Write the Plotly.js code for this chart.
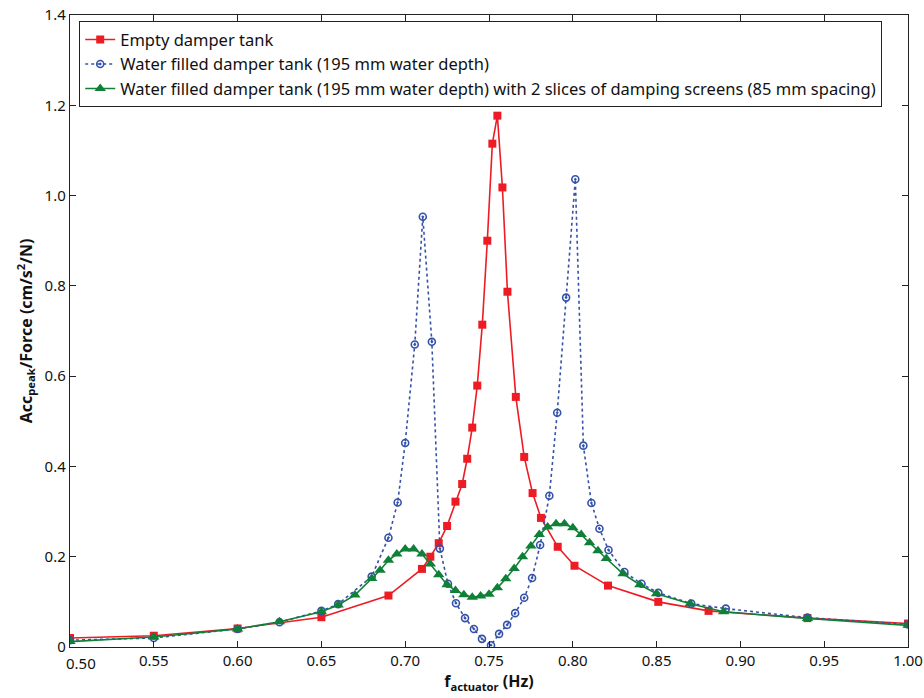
<!DOCTYPE html>
<html>
<head>
<meta charset="utf-8">
<script src="https://cdn.plot.ly/plotly-3.0.1.min.js"></script>
<style>html,body{margin:0;padding:0;background:#fff;}#chart{width:924px;height:698px;}</style>
</head>
<body>
<div id="chart"></div>
<script>
// Empty damper tank
const emptyFreq = [0.50, 0.55, 0.60, 0.65, 0.69, 0.71, 0.715, 0.72, 0.725, 0.73, 0.734, 0.737, 0.740, 0.743, 0.746, 0.749, 0.752, 0.755, 0.758, 0.761, 0.766, 0.771, 0.776, 0.781, 0.791, 0.801, 0.821, 0.851, 0.881, 0.94, 1.00];
const emptyAcc  = [0.020, 0.025, 0.041, 0.066, 0.114, 0.173, 0.200, 0.230, 0.268, 0.322, 0.361, 0.417, 0.486, 0.579, 0.714, 0.900, 1.115, 1.177, 1.018, 0.787, 0.554, 0.421, 0.341, 0.286, 0.222, 0.180, 0.136, 0.100, 0.080, 0.064, 0.052];

// Water filled damper tank (195 mm)
const waterFreq = [0.50, 0.55, 0.60, 0.625, 0.65, 0.66, 0.68, 0.69, 0.6955, 0.700, 0.7057, 0.7105, 0.7159, 0.7207, 0.7255, 0.7303, 0.7357, 0.741, 0.7458, 0.7512, 0.756, 0.7608, 0.7656, 0.771, 0.7757, 0.7805, 0.786, 0.7907, 0.796, 0.8015, 0.8063, 0.8111, 0.8159, 0.8213, 0.8308, 0.841, 0.851, 0.8707, 0.8913, 0.94, 1.00];
const waterAcc  = [0.015, 0.020, 0.040, 0.055, 0.080, 0.095, 0.156, 0.242, 0.320, 0.452, 0.670, 0.953, 0.676, 0.218, 0.140, 0.097, 0.064, 0.040, 0.018, 0.004, 0.029, 0.049, 0.075, 0.109, 0.153, 0.226, 0.335, 0.519, 0.774, 1.036, 0.446, 0.319, 0.262, 0.215, 0.166, 0.140, 0.120, 0.096, 0.085, 0.065, 0.050];

// Water filled with 2 slices of damping screens
const screenFreq = [0.50, 0.55, 0.60, 0.625, 0.65, 0.66, 0.67, 0.68, 0.685, 0.69, 0.695, 0.70, 0.705, 0.71, 0.715, 0.72, 0.725, 0.73, 0.735, 0.74, 0.745, 0.75, 0.755, 0.76, 0.765, 0.77, 0.775, 0.78, 0.785, 0.79, 0.795, 0.80, 0.805, 0.81, 0.815, 0.82, 0.83, 0.84, 0.85, 0.87, 0.89, 0.94, 1.00];
const screenAcc  = [0.012, 0.022, 0.040, 0.056, 0.078, 0.093, 0.115, 0.152, 0.170, 0.192, 0.206, 0.217, 0.217, 0.206, 0.184, 0.160, 0.138, 0.125, 0.116, 0.110, 0.113, 0.117, 0.131, 0.151, 0.174, 0.200, 0.224, 0.249, 0.266, 0.273, 0.273, 0.264, 0.249, 0.231, 0.213, 0.196, 0.162, 0.138, 0.118, 0.096, 0.078, 0.063, 0.048];

const xTickVals = [0.50, 0.55, 0.60, 0.65, 0.70, 0.75, 0.80, 0.85, 0.90, 0.95, 1.00];
const xTickText = ["0.50", "0.55", "0.60", "0.65", "0.70", "0.75", "0.80", "0.85", "0.90", "0.95", "1.00"];
const yTickVals = [0, 0.2, 0.4, 0.6, 0.8, 1.0, 1.2, 1.4];
const yTickText = ["0", "0.2", "0.4", "0.6", "0.8", "1.0", "1.2", "1.4"];

const seriesNames = [
  "Empty damper tank",
  "Water filled damper tank (195 mm water depth)",
  "Water filled damper tank (195 mm water depth) with 2 slices of damping screens (85 mm spacing)"
];

const red = "#ed1c24", blue = "#3452aa", green = "#108038";

const traces = [
  {x: emptyFreq, y: emptyAcc, name: seriesNames[0], mode: "lines+markers", type: "scatter",
   line: {color: red, width: 1.6}, marker: {symbol: "square", size: 8, color: red}},
  {x: waterFreq, y: waterAcc, name: seriesNames[1], mode: "lines+markers", type: "scatter",
   line: {color: blue, width: 1.6, dash: "dot"}, marker: {symbol: "circle-open-dot", size: 7, color: blue, line: {width: 1.6, color: blue}}},
  {x: screenFreq, y: screenAcc, name: seriesNames[2], mode: "lines+markers", type: "scatter",
   line: {color: green, width: 1.6}, marker: {symbol: "triangle-up", size: 10, color: green}}
];

const fontFam = "'Noto Sans', 'Open Sans', sans-serif";

// first x tick label is drawn shifted right (as in the reference) so it clears the "0" y label
const shownXText = xTickText.map((t, i) => i === 0 ? "" : t);

const layout = {
  width: 924, height: 698,
  margin: {l: 70, r: 16, t: 15, b: 51},
  paper_bgcolor: "#fff", plot_bgcolor: "#fff",
  font: {family: fontFam, size: 15, color: "#111"},
  showlegend: true,
  legend: {x: 0.011, y: 0.99, xanchor: "left", yanchor: "top", bordercolor: "#222", borderwidth: 1,
           bgcolor: "#fff", font: {family: fontFam, size: 16.5, color: "#111"}, tracegroupgap: 0},
  xaxis: {range: [0.50, 1.00], tickvals: xTickVals, ticktext: shownXText, ticks: "inside", ticklen: 6,
          tickcolor: "#222", showline: true, linecolor: "#222", linewidth: 1.2, mirror: "ticks",
          showgrid: false, zeroline: false,
          title: {text: "<b>f<sub>actuator</sub> (Hz)</b>", font: {family: fontFam, size: 16}, standoff: 4}},
  yaxis: {range: [0, 1.4], tickvals: yTickVals, ticktext: yTickText, ticks: "inside", ticklen: 6,
          tickcolor: "#222", showline: true, linecolor: "#222", linewidth: 1.2, mirror: "ticks",
          showgrid: false, zeroline: false,
          title: {text: "<b>Acc<sub>peak</sub>/Force (cm/s<sup>2</sup>/N)</b>", font: {family: fontFam, size: 16}, standoff: 8}},
  annotations: [{x: xTickVals[0], xref: "x", y: 0, yref: "paper", yanchor: "top", xanchor: "center",
                 xshift: 11, yshift: -4, showarrow: false, text: xTickText[0],
                 font: {family: fontFam, size: 15, color: "#111"}}]
};

Plotly.newPlot("chart", traces, layout, {displayModeBar: false, staticPlot: true});
</script>
</body>
</html>
